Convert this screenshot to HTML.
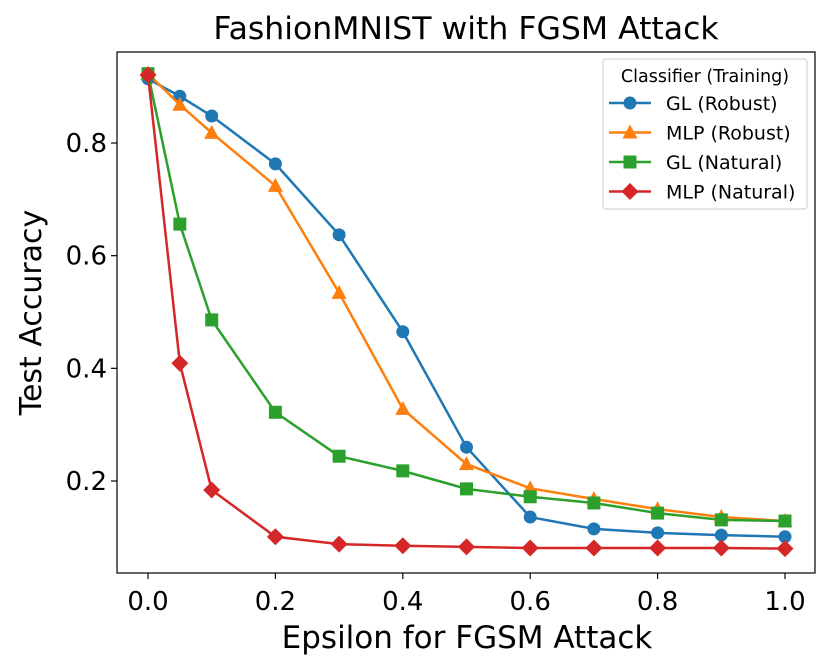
<!DOCTYPE html>
<html><head><meta charset="utf-8"><style>
body{margin:0;background:#fff;}
svg{display:block;font-family:"DejaVu Sans","Liberation Sans",sans-serif;}
</style></head><body>
<svg id="chart" width="831" height="669"></svg>
<script>
const xs=[0,0.05,0.1,0.2,0.3,0.4,0.5,0.6,0.7,0.8,0.9,1.0];
const glRobust=[0.914,0.883,0.848,0.763,0.637,0.465,0.260,0.136,0.115,0.108,0.104,0.101];
const mlpRobust=[0.923,0.868,0.818,0.724,0.534,0.328,0.230,0.187,0.168,0.150,0.136,0.129];
const glNatural=[0.923,0.656,0.486,0.322,0.244,0.218,0.186,0.172,0.161,0.143,0.131,0.129];
const mlpNatural=[0.921,0.409,0.184,0.101,0.088,0.085,0.083,0.081,0.081,0.081,0.081,0.080];
const xTicks=[0,0.2,0.4,0.6,0.8,1.0];
const yTicks=[0.2,0.4,0.6,0.8];
const seriesNames=["GL (Robust)","MLP (Robust)","GL (Natural)","MLP (Natural)"];
const NS="http://www.w3.org/2000/svg";
const svg=document.getElementById('chart');
const X=v=>148+v*637;
const Y=v=>481-(v-0.2)*563.3;
function mk(t,a,p){const e=document.createElementNS(NS,t);for(const k in a)e.setAttribute(k,a[k]);(p||svg).appendChild(e);return e;}
const L=117,R=815,T=52,B=573;
const title=mk('text',{x:466,y:39,'text-anchor':'middle','font-size':31.5});title.textContent='FashionMNIST with FGSM Attack';


xTicks.forEach(v=>{mk('line',{x1:X(v),x2:X(v),y1:B,y2:B+6,stroke:'#000','stroke-width':1.2});
const t=mk('text',{x:X(v),y:B+37,'text-anchor':'middle','font-size':26});t.textContent=v.toFixed(1);

});
yTicks.forEach(v=>{mk('line',{x1:L-6,x2:L,y1:Y(v),y2:Y(v),stroke:'#000','stroke-width':1.2});
const t=mk('text',{x:L-10,y:Y(v)+9,'text-anchor':'end','font-size':26});t.textContent=v.toFixed(1);

});
const xt=mk('text',{x:467,y:648,'text-anchor':'middle','font-size':31});xt.textContent='Epsilon for FGSM Attack';


const yt=mk('text',{x:0,y:0,'text-anchor':'middle','font-size':30,transform:`translate(41,${(T+B)/2}) rotate(-90)`});yt.textContent='Test Accuracy';


const colors=['#1f77b4','#ff7f0e','#2ca02c','#d62728'];
const shapes=['circle','tri','square','diamond'];
function marker(s,x,y,c,g){
 if(s==='circle')return mk('circle',{cx:x,cy:y,r:6.5,fill:c},g);
 if(s==='square')return mk('rect',{x:x-6.5,y:y-6.5,width:13,height:13,fill:c},g);
 if(s==='tri')return mk('polygon',{points:`${x},${y-8} ${x+7.5},${y+6} ${x-7.5},${y+6}`,fill:c},g);
 return mk('polygon',{points:`${x},${y-8.5} ${x+8.5},${y} ${x},${y+8.5} ${x-8.5},${y}`,fill:c},g);
}
[glRobust,mlpRobust,glNatural,mlpNatural].forEach((d,i)=>{
 const g=mk('g',{});
 
 
 mk('polyline',{points:d.map((v,j)=>X(xs[j])+','+Y(v)).join(' '),fill:'none',stroke:colors[i],'stroke-width':2.5},g);
 d.forEach((v,j)=>{const m=marker(shapes[i],X(xs[j]),Y(v),colors[i],g);
 
 });
});
mk('rect',{x:L,y:T,width:R-L,height:B-T,fill:'none',stroke:'#000','stroke-width':1.2});
const lg=mk('g',{});


mk('rect',{x:603,y:59,width:204,height:150,rx:3,fill:'#fff',stroke:'#ccc','stroke-width':1},lg);
const lt=mk('text',{x:705,y:82,'text-anchor':'middle','font-size':17.5},lg);lt.textContent='Classifier (Training)';
seriesNames.forEach((n,i)=>{const y=103+i*29.5;
 const e=mk('g',{},lg);
 
 
 mk('line',{x1:609,x2:651,y1:y,y2:y,stroke:colors[i],'stroke-width':2.5},e);
 marker(shapes[i],630,y,colors[i],e);
 const t=mk('text',{x:666,y:y+7,'font-size':19},e);t.textContent=n;});
</script>
</body></html>
